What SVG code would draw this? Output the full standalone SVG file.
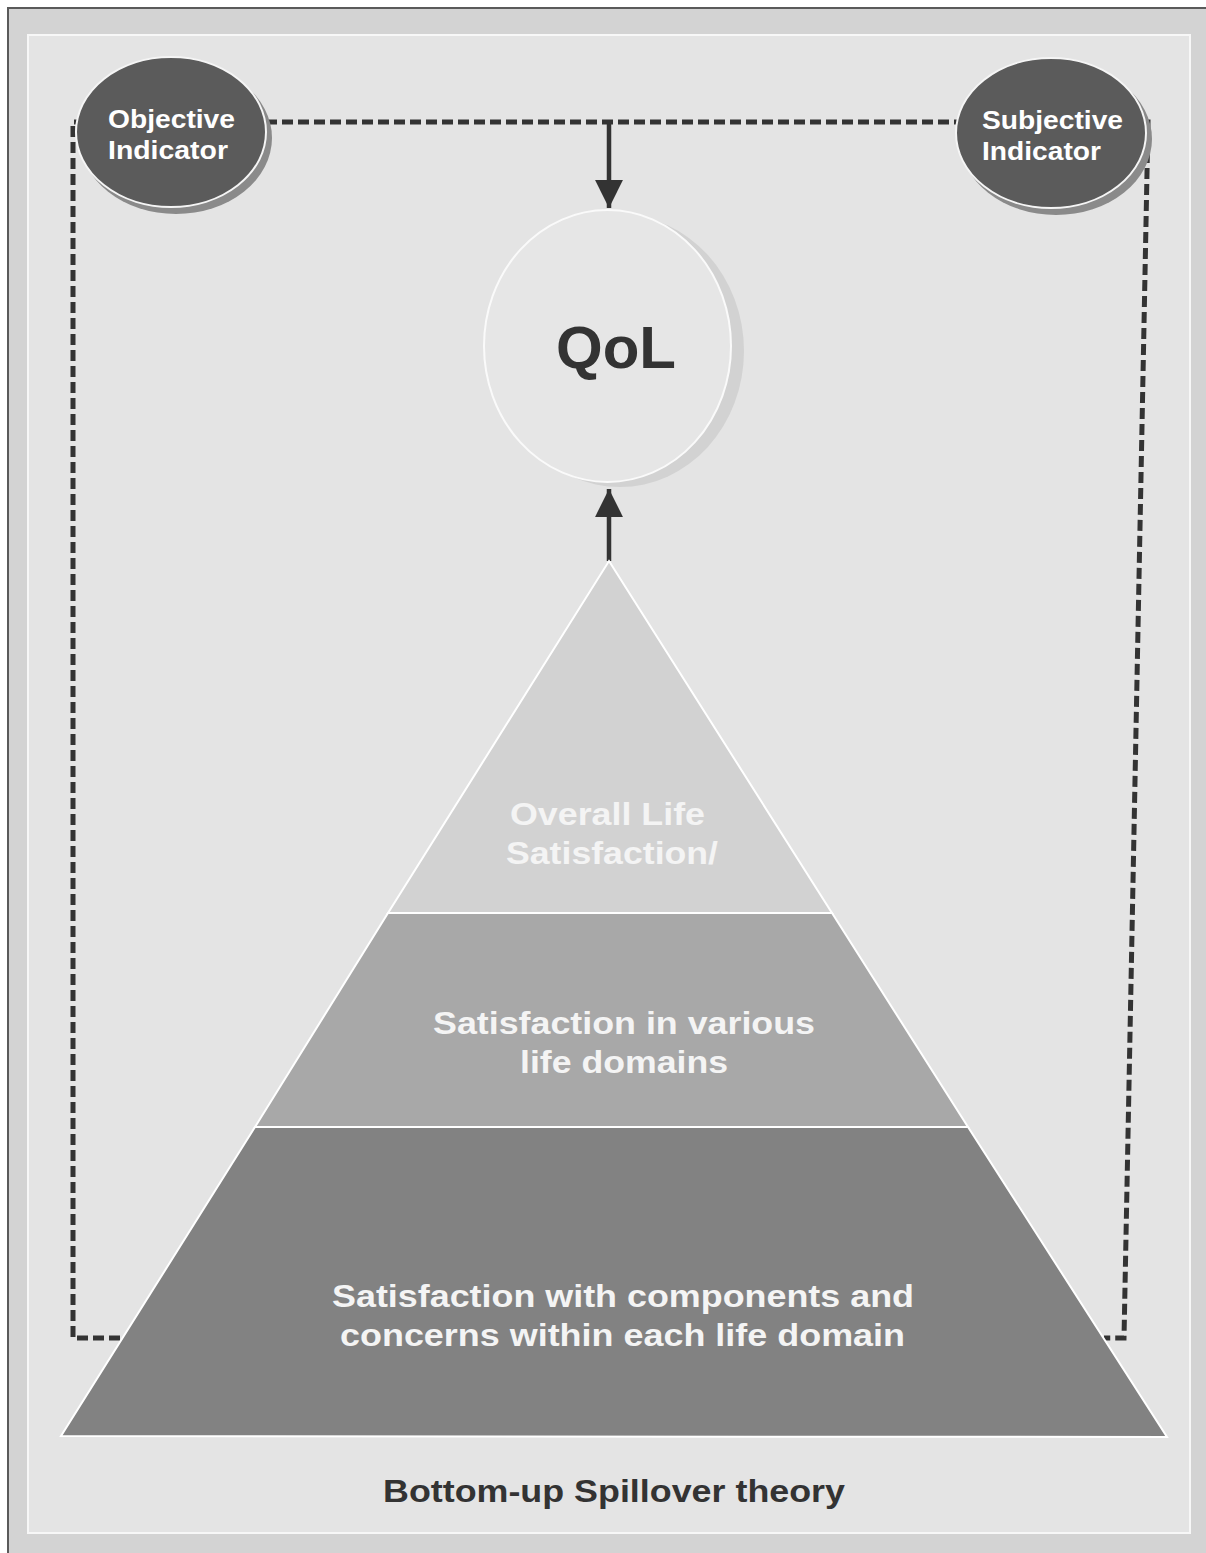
<svg xmlns="http://www.w3.org/2000/svg" width="1206" height="1553" viewBox="0 0 1206 1553">
  <defs>
    <style>
      .lbl { font-family: "Liberation Sans", Arial, sans-serif; font-weight: bold; text-anchor: middle; }
      .ind { fill: #ffffff; font-size: 26px; }
      .pyr { fill: #f4f4f4; font-size: 32px; }
      .dash { fill: none; stroke: #333333; stroke-width: 5; stroke-dasharray: 11 5; }
      .arrow { fill: none; stroke: #333333; stroke-width: 4.5; }
      .layer { stroke: #ffffff; stroke-width: 2; }
    </style>
    <marker id="head" viewBox="0 0 10 10" refX="10" refY="5" markerWidth="6.2" markerHeight="6.2" markerUnits="strokeWidth" orient="auto">
      <path d="M0,0 L10,5 L0,10 Z" fill="#333333"/>
    </marker>
  </defs>

  <!-- frame -->
  <rect x="0" y="0" width="1206" height="1553" fill="#ffffff"/>
  <rect x="8" y="8" width="1200" height="1547" fill="#d3d3d3" stroke="#5a5a5a" stroke-width="2"/>
  <rect x="28" y="35" width="1162" height="1498" fill="#e4e4e4" stroke="#f7f7f7" stroke-width="2"/>

  <!-- connectors -->
  <g id="connectors">
    <path class="dash" d="M120,1338 H73 V122 H1148 L1124,1338 H1104"/>
    <line class="arrow" x1="609" y1="122" x2="609" y2="208" marker-end="url(#head)"/>
    <line class="arrow" x1="609" y1="561" x2="609" y2="489" marker-end="url(#head)"/>
  </g>

  <!-- objective indicator -->
  <g id="objective-indicator">
    <ellipse cx="176" cy="138" rx="96" ry="76" fill="#8a8a8a"/>
    <ellipse cx="171" cy="132" rx="95" ry="75" fill="#5b5b5b" stroke="#f5f5f5" stroke-width="2"/>
    <text class="lbl ind" x="171.5" y="128" textLength="127" lengthAdjust="spacingAndGlyphs">Objective</text>
    <text class="lbl ind" x="168" y="159" textLength="120" lengthAdjust="spacingAndGlyphs">Indicator</text>
  </g>

  <!-- subjective indicator -->
  <g id="subjective-indicator">
    <ellipse cx="1056" cy="139" rx="96" ry="76" fill="#8a8a8a"/>
    <ellipse cx="1051" cy="133" rx="95" ry="75" fill="#5b5b5b" stroke="#f5f5f5" stroke-width="2"/>
    <text class="lbl ind" x="1052.5" y="129" textLength="141" lengthAdjust="spacingAndGlyphs">Subjective</text>
    <text class="lbl ind" x="1041.5" y="160" textLength="119" lengthAdjust="spacingAndGlyphs">Indicator</text>
  </g>

  <!-- QoL -->
  <g id="qol">
    <ellipse cx="620" cy="351" rx="124" ry="136" fill="#d2d2d2"/>
    <ellipse cx="607.5" cy="346" rx="123.5" ry="136" fill="#e6e6e6" stroke="#fafafa" stroke-width="2"/>
    <text class="lbl" x="616" y="368" font-size="60" fill="#333333">QoL</text>
  </g>

  <!-- pyramid layers -->
  <g id="overall-life-satisfaction">
    <polygon class="layer" points="609,561 832,913 388,913" fill="#d2d2d2"/>
    <text class="lbl pyr" x="607.5" y="825" textLength="195" lengthAdjust="spacingAndGlyphs">Overall Life</text>
    <text class="lbl pyr" x="612" y="864" textLength="212" lengthAdjust="spacingAndGlyphs">Satisfaction/</text>
  </g>
  <g id="life-domains">
    <polygon class="layer" points="388,913 832,913 968,1127 255,1127" fill="#a8a8a8"/>
    <text class="lbl pyr" x="624" y="1034" textLength="382" lengthAdjust="spacingAndGlyphs">Satisfaction in various</text>
    <text class="lbl pyr" x="624" y="1073" textLength="208" lengthAdjust="spacingAndGlyphs">life domains</text>
  </g>
  <g id="components-concerns">
    <polygon class="layer" points="255,1127 968,1127 1167,1437 61,1436" fill="#828282"/>
    <text class="lbl pyr" x="623" y="1307" textLength="582" lengthAdjust="spacingAndGlyphs">Satisfaction with components and</text>
    <text class="lbl pyr" x="622.5" y="1346" textLength="565" lengthAdjust="spacingAndGlyphs">concerns within each life domain</text>
  </g>

  <!-- caption -->
  <g id="caption">
    <text class="lbl" x="614" y="1502" font-size="32" fill="#333333" textLength="462" lengthAdjust="spacingAndGlyphs">Bottom-up Spillover theory</text>
  </g>
</svg>
